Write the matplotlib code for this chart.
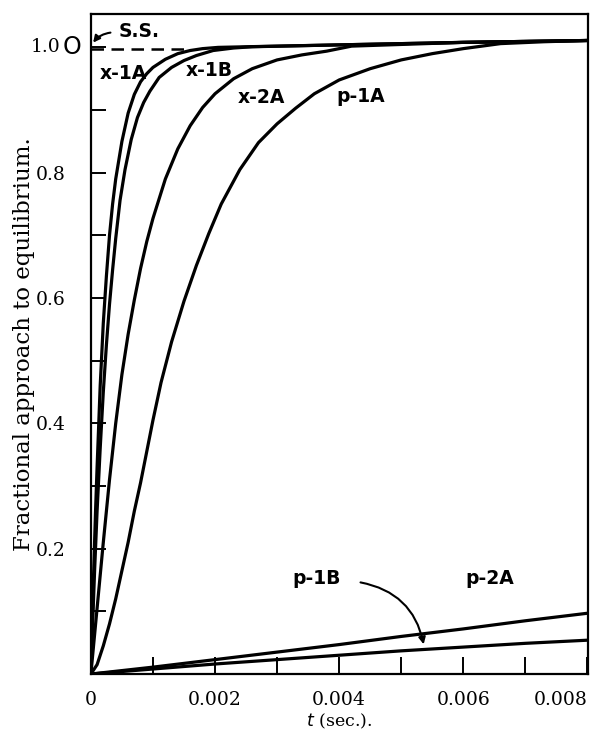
import numpy as np
import matplotlib
matplotlib.use("Agg")
import matplotlib.pyplot as plt
from matplotlib.ticker import FixedLocator

# time in milliseconds (converted to seconds when plotting), fraction of equilibrium
t_x1a = [0, 0.025, 0.05, 0.075, 0.1, 0.15, 0.2, 0.25, 0.3, 0.35, 0.4, 0.5, 0.6, 0.7, 0.8, 0.9,
         1.0, 1.2, 1.4, 1.6, 1.8, 2.05, 2.5, 4.0, 6.0, 8.0]
y_x1a = [0, 0.095, 0.18, 0.26, 0.33, 0.46, 0.56, 0.635, 0.70, 0.75, 0.79, 0.85, 0.895, 0.925, 0.945, 0.958,
         0.968, 0.981, 0.99, 0.995, 0.998, 1.0, 1.001, 1.004, 1.008, 1.011]

t_x1b = [0, 0.03, 0.06, 0.1, 0.15, 0.2, 0.25, 0.3, 0.35, 0.4, 0.47, 0.55, 0.65, 0.75, 0.85, 0.95,
         1.1, 1.3, 1.5, 1.7, 1.97, 2.3, 2.6, 4.0, 6.0, 8.0]
y_x1b = [0, 0.085, 0.165, 0.26, 0.36, 0.45, 0.525, 0.59, 0.645, 0.695, 0.756, 0.805, 0.853, 0.888, 0.912, 0.93,
         0.952, 0.968, 0.979, 0.987, 0.995, 0.999, 1.001, 1.004, 1.008, 1.011]

t_x2a = [0, 0.1, 0.2, 0.3, 0.4, 0.5, 0.6, 0.7, 0.8, 0.9, 1.0, 1.2, 1.4, 1.6, 1.8, 2.0,
         2.3, 2.6, 3.0, 3.4, 3.8, 4.2, 6.0, 8.0]
y_x2a = [0, 0.105, 0.21, 0.31, 0.40, 0.478, 0.542, 0.597, 0.647, 0.69, 0.727, 0.79, 0.838, 0.875, 0.904, 0.926,
         0.95, 0.966, 0.98, 0.988, 0.994, 1.002, 1.008, 1.011]

t_p1a = [0, 0.1, 0.2, 0.3, 0.4, 0.5, 0.6, 0.7, 0.8, 0.9, 1.0, 1.13, 1.3, 1.5, 1.7, 1.9,
         2.1, 2.4, 2.7, 3.0, 3.3, 3.6, 4.0, 4.5, 5.0, 5.5, 6.0, 6.6, 7.3, 8.0]
y_p1a = [0, 0.015, 0.045, 0.08, 0.12, 0.165, 0.21, 0.26, 0.305, 0.355, 0.405, 0.465, 0.53, 0.595, 0.652, 0.703,
         0.75, 0.805, 0.848, 0.878, 0.903, 0.926, 0.948, 0.966, 0.98, 0.99, 0.998, 1.006, 1.009, 1.011]

t_p2a = [0, 1, 2, 3, 4, 5, 6, 7, 8]
y_p2a = [0, 0.011, 0.023, 0.035, 0.047, 0.060, 0.072, 0.085, 0.097]

t_p1b = [0, 1, 2, 3, 4, 5, 6, 7, 8]
y_p1b = [0, 0.008, 0.016, 0.023, 0.030, 0.037, 0.043, 0.049, 0.054]

curves = [(t_x1a, y_x1a), (t_x1b, y_x1b), (t_x2a, y_x2a), (t_p1a, y_p1a), (t_p2a, y_p2a), (t_p1b, y_p1b)]

labels = ["x-1A", "x-1B", "x-2A", "p-1A", "p-1B", "p-2A"]
label_t = [0.53, 1.91, 2.74, 4.34, 3.63, 6.43]
label_y = [0.958, 0.963, 0.92, 0.922, 0.153, 0.153]

serif = "DejaVu Serif"
sans = "DejaVu Sans"

fig = plt.figure(figsize=(5.94, 7.34), dpi=100)
ax = fig.add_axes([0.153, 0.0817, 0.837, 0.899])

for t, y in curves:
    ax.plot(np.array(t) * 1e-3, y, color="black", lw=2.3,
            solid_capstyle="round", solid_joinstyle="round")

# steady state dashed line
ax.plot([0, 0.0015], [0.998, 0.998], color="black", lw=1.8, dashes=(5, 3))

for lab, tx, ty in zip(labels, label_t, label_y):
    ax.text(tx * 1e-3, ty, lab, family=sans, fontweight="bold", fontsize=13.5,
            ha="center", va="center")

ax.text(0.78e-3, 1.026, "S.S.", family=sans, fontweight="bold", fontsize=13.5,
        ha="center", va="center")
ax.annotate("", xy=(0.01e-3, 1.004), xytext=(0.36e-3, 1.024),
            arrowprops=dict(arrowstyle="-|>", color="black", lw=1.5,
                            connectionstyle="arc3,rad=0.25", mutation_scale=10))
ax.annotate("", xy=(5.37e-3, 0.043), xytext=(4.3e-3, 0.147),
            arrowprops=dict(arrowstyle="-|>", color="black", lw=1.5,
                            connectionstyle="arc3,rad=-0.35", mutation_scale=10))

ax.set_xlim(0, 0.00801)
ax.set_ylim(0, 1.053)

ax.xaxis.set_major_locator(FixedLocator([0, 0.002, 0.004, 0.006, 0.008]))
ax.xaxis.set_minor_locator(FixedLocator([0.001, 0.003, 0.005, 0.007]))
xl = ax.set_xticklabels(["0", "0.002", "0.004", "0.006", "0.008"], family=serif, fontsize=13.5)
xl[-1].set_horizontalalignment("right")
ax.yaxis.set_major_locator(FixedLocator([0.2, 0.4, 0.6, 0.8, 1.0]))
ax.yaxis.set_minor_locator(FixedLocator([0.1, 0.3, 0.5, 0.7, 0.9]))
ax.set_yticklabels(["0.2", "0.4", "0.6", "0.8", ""], family=serif, fontsize=13.5)

ax.tick_params(which="both", direction="in", width=1.4, top=False, right=False)
ax.tick_params(axis="x", which="both", length=12, pad=12)
ax.tick_params(axis="y", which="both", length=11, pad=18)

# the 1.0 label with its large O
ytr = ax.get_yaxis_transform()
ax.annotate("1.0", xy=(0, 1.0), xycoords=ytr, xytext=(-22, 0), textcoords="offset points",
            family=serif, fontsize=13.5, ha="right", va="center")
ax.annotate("O", xy=(0, 1.0), xycoords=ytr, xytext=(-7, 0), textcoords="offset points",
            family=sans, fontsize=17, ha="right", va="center")

for s in ax.spines.values():
    s.set_linewidth(1.6)

ax.set_ylabel("Fractional approach to equilibrium.", family=serif, fontsize=16.5, labelpad=1)
ax.set_xlabel(r"$t$ (sec.).", family=serif, fontsize=12.5, labelpad=2)

fig.savefig("out.png", dpi=100)
